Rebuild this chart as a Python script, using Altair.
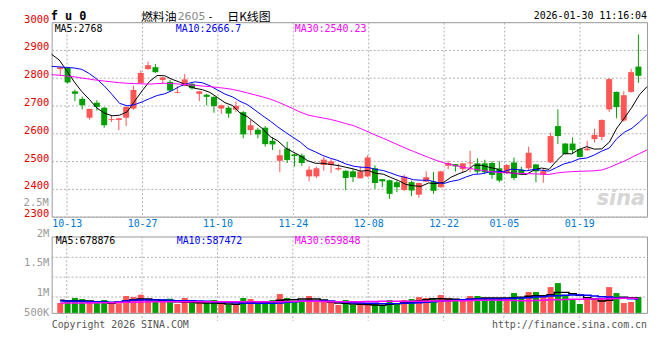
import altair as alt
import pandas as pd

# ---------------- data ----------------
dates = ["10-09","10-10","10-13","10-14","10-15","10-16","10-17","10-20","10-21","10-22","10-23","10-24",
         "10-27","10-28","10-29","10-30","10-31",
         "11-03","11-04","11-05","11-06","11-07","11-10","11-11","11-12","11-13","11-14","11-17","11-18",
         "11-19","11-20","11-21","11-24","11-25","11-26","11-27","11-28",
         "12-01","12-02","12-03","12-04","12-05","12-08","12-09","12-10","12-11","12-12","12-15","12-16",
         "12-17","12-18","12-19","12-22","12-23","12-24","12-25","12-26","12-29","12-30","12-31",
         "01-05","01-06","01-07","01-08","01-09","01-12","01-13","01-14","01-15","01-16","01-19","01-20",
         "01-21","01-22","01-23","01-26","01-27","01-28","01-29","01-30"]

opens = [2831,2835,2751,2724,2656,2710,2692,2648,2648,2656,2689,2781,2831,2838,2792,2785,2746,2771,2778,2742,
         2739,2731,2689,2692,2685,2676,2611,2613,2620,2573,2501,2545,2524,2520,2445,2445,2486,2486,2470,2465,
         2463,2438,2445,2474,2435,2431,2424,2396,2424,2379,2426,2427,2406,2483,2489,2471,2492,2492,2492,2493,
         2474,2460,2495,2469,2474,2488,2451,2495,2626,2563,2563,2543,2539,2579,2587,2686,2749,2646,2749,2840]
highs = [2840,2838,2757,2732,2688,2719,2695,2666,2656,2697,2771,2826,2858,2849,2803,2793,2770,2813,2785,2752,
         2742,2733,2703,2698,2715,2680,2649,2620,2626,2585,2542,2570,2527,2527,2481,2480,2515,2507,2489,2467,
         2471,2481,2521,2485,2436,2433,2430,2451,2430,2423,2463,2461,2465,2501,2490,2493,2537,2510,2505,2499,
         2499,2489,2513,2480,2552,2490,2471,2602,2686,2565,2585,2546,2573,2617,2650,2799,2750,2751,2832,2956]
lows = [2808,2779,2716,2686,2649,2682,2620,2641,2611,2626,2685,2779,2829,2817,2779,2749,2744,2769,2757,2716,
        2701,2674,2670,2656,2677,2582,2594,2582,2552,2540,2460,2493,2481,2483,2427,2439,2465,2457,2465,2396,
        2424,2438,2442,2400,2406,2364,2388,2392,2374,2368,2425,2382,2404,2471,2462,2460,2460,2454,2454,2436,
        2424,2454,2431,2451,2465,2424,2422,2493,2561,2523,2525,2513,2537,2567,2575,2677,2654,2642,2746,2781]
closes = [2838,2783,2742,2701,2688,2695,2629,2651,2654,2695,2756,2817,2845,2820,2801,2754,2749,2794,2762,2751,
          2731,2698,2701,2671,2699,2596,2629,2596,2561,2560,2521,2504,2518,2493,2469,2474,2505,2499,2475,2439,
          2442,2463,2513,2421,2427,2382,2406,2444,2394,2421,2442,2393,2463,2493,2481,2492,2495,2462,2460,2450,
          2430,2486,2439,2456,2530,2463,2464,2590,2590,2525,2539,2515,2545,2594,2648,2795,2694,2737,2820,2807]

ma5 = [2884,2864,2825,2785,2750,2722,2691,2673,2663,2665,2677,2715,2753,2787,2808,2807,2794,2784,2772,2762,
       2757,2747,2729,2710,2700,2673,2659,2638,2616,2588,2573,2548,2533,2519,2501,2492,2492,2488,2484,2478,
       2472,2464,2466,2456,2453,2441,2430,2416,2411,2409,2421,2419,2423,2442,2454,2464,2485,2485,2478,2472,
       2459,2458,2453,2452,2468,2475,2470,2501,2527,2526,2542,2552,2543,2544,2568,2619,2655,2694,2739,2768]
ma10 = [2841,2839,2837,2835,2830,2815,2795,2770,2740,2708,2699,2703,2713,2725,2736,2742,2754,2769,2779,2785,
        2782,2771,2756,2741,2731,2715,2703,2683,2663,2644,2623,2604,2586,2568,2545,2533,2520,2510,2502,2490,
        2482,2478,2477,2470,2466,2457,2447,2441,2433,2431,2431,2424,2419,2427,2432,2443,2452,2454,2460,2463,
        2462,2471,2469,2465,2470,2467,2464,2477,2490,2497,2508,2511,2522,2536,2547,2581,2604,2618,2641,2667]
ma30 = [2811,2809,2806,2803,2799,2795,2791,2788,2785,2782,2780,2779,2778,2777,2779,2780,2779,2777,2775,2773,
        2770,2768,2765,2762,2758,2752,2745,2738,2731,2723,2713,2701,2689,2676,2666,2660,2655,2650,2643,2635,
        2628,2617,2605,2593,2582,2570,2558,2546,2535,2524,2513,2503,2494,2487,2481,2476,2471,2467,2463,2460,
        2458,2457,2456,2455,2454,2453,2452,2457,2460,2462,2463,2464,2465,2468,2477,2489,2500,2514,2527,2540]

vols_k = [455,545,682,636,545,545,591,468,441,773, 727,832,636,545,545,650,409,682,500,500,
          455,591,455,364,409,682,636,455,455,591, 864,682,545,545,773,545,545,500,364,591,
          364,455,455,409,364,591,409,591,636,727, 682,682,818,682,591,591,773,773,682,682,
          682,682,909,682,955,955,727,1182,1364,773, 636,409,636,636,682,1182,909,455,500,727]
vma5_k = [576,561,561,546,546,516,485,440,485,546, 607,637,637,607,576,546,516,500,485,470,
          455,455,440,410,394,440,470,455,485,516, 576,607,607,637,637,637,592,500,455,440,
          410,394,379,364,349,394,425,455,500,546, 607,652,652,637,622,607,622,652,682,682,
          682,682,698,713,758,789,789,834,940,940, 880,804,698,637,546,576,667,713,698,679]
vma10_k = [546,546,531,531,516,516,500,485,500,546, 576,592,592,592,592,576,561,561,561,546,
           531,516,500,485,470,455,440,440,440,440, 455,485,516,546,546,546,546,546,516,485,
           470,455,440,440,425,425,425,440,455,470, 485,516,546,561,576,607,622,637,637,637,
           637,652,667,682,698,728,743,773,789,804, 819,819,804,773,743,728,682,667,652,637]
vma30_k = [455,455,455,455,455,460,465,470,480,485, 490,500,505,510,512,515,516,516,516,516,
           516,516,516,516,516,516,516,516,516,516, 516,520,525,530,531,531,525,516,516,516,
           516,516,520,525,531,531,531,531,531,531, 535,540,546,550,555,561,566,576,580,585,
           580,575,565,560,555,565,580,600,607,615, 622,630,637,640,645,652,660,667,670,660]

tick_labels = ["10-13","10-27","11-10","11-24","12-08","12-22","01-05","01-19"]
price_ticks = [2300, 2400, 2500, 2600, 2700, 2800, 2900, 3000]
vol_label_text = ["500K", "1M", "1.5M", "2M"]
vol_label_pos = [0, 932000, 2318000, 3500000]
vol_extra_label = "2.5M"
vol_grid = [727000, 1636000, 2545000]
ma_names = ["MA5", "MA10", "MA30"]
main_ma_text = ["MA5:2768", "MA10:2666.7", "MA30:2540.23"]
vol_ma_text = ["MA5:678876", "MA10:587472", "MA30:659848"]

# ---------------- styling ----------------
RED = "#ff5555"
GREEN = "#00a000"
PRICE_RED = "#e60000"
BLUE = "#0078d7"
GRID = "#b0b0b0"
MONO = "DejaVu Sans Mono"
CJK = "Noto Sans CJK SC"
W, H, VH = 600, 196, 77
n = len(dates)
idx = list(range(n))

df = pd.DataFrame({"i": idx, "open": opens, "high": highs, "low": lows, "close": closes,
                   "vol": [v * 1000 for v in vols_k]})
df["key"] = ["up" if c >= o else "down" for o, c in zip(opens, closes)]
ma_df = pd.DataFrame({"i": idx * 3, "key": [m for m in ma_names for _ in idx], "value": ma5 + ma10 + ma30})
vma_df = pd.DataFrame({"i": idx * 3, "key": [m for m in ma_names for _ in idx],
                       "value": [v * 1000 for v in vma5_k + vma10_k + vma30_k]})
tick_idx = [dates.index(d) for d in tick_labels]

color = alt.Color("key:N", scale=alt.Scale(domain=["up", "down"] + ma_names,
                                           range=[RED, GREEN, "#000000", "#0000ff", "#ff00ff"]), legend=None)

xc = alt.X("i:Q", scale=alt.Scale(domain=[-0.5, n - 0.5], nice=False, zero=False), axis=None)
xl_scale = alt.Scale(domain=[0, n - 1], nice=False, zero=False)
date_arr = "[" + ",".join("'%s'" % d for d in dates) + "]"
xl_axis = alt.Axis(values=tick_idx, labelExpr=date_arr + "[datum.value]", grid=True, gridDash=[2, 2],
                   gridColor=GRID, ticks=False, domain=False, labelColor=BLUE, labelFont=MONO,
                   labelFontSize=10, labelPadding=2, labelOverlap=False, labelFlush=False, title=None)
xl = alt.X("i:Q", scale=xl_scale, axis=xl_axis)

yp_scale = alt.Scale(domain=[2300, 3000], nice=False, zero=False)
yp_axis = alt.Axis(values=price_ticks, format="d", grid=True, gridDash=[2, 2], gridColor=GRID, ticks=False,
                   domain=False, labelColor=PRICE_RED, labelFont=MONO, labelFontSize=10.5, labelPadding=3,
                   labelOffset=-3, labelOverlap=False, title=None)


def txt(s, x, y, col, size=10, font=MONO, align="left", weight="normal", style="normal"):
    return alt.Chart(pd.DataFrame({"t": [s]})).mark_text(
        align=align, baseline="middle", font=font, fontSize=size, color=col, fontWeight=weight,
        fontStyle=style).encode(x=alt.value(x), y=alt.value(y), text="t:N")


# ---------------- price panel ----------------
wicks = alt.Chart(df).mark_rule(strokeWidth=1).encode(
    x=xc, y=alt.Y("low:Q", scale=yp_scale, axis=yp_axis), y2="high:Q", color=color)
bodies = alt.Chart(df).mark_bar(size=6).encode(
    x=xc, y=alt.Y("open:Q", scale=yp_scale, axis=yp_axis), y2="close:Q", color=color)
lines = alt.Chart(ma_df).mark_line(strokeWidth=1).encode(
    x=xl, y=alt.Y("value:Q", scale=yp_scale, axis=yp_axis), color=color)

main = alt.layer(
    txt("sina", W - 2, 178, "#d6d6d6", size=21, font="DejaVu Sans", weight="bold", style="italic",
        align="right"),
    alt.layer(wicks, bodies),
    lines,
    txt(main_ma_text[0], 3, 6.5, "#000000"),
    txt(main_ma_text[1], 125, 6.5, "#0000ff"),
    txt(main_ma_text[2], 245, 6.5, "#ff00ff"),
    txt(vol_extra_label, -3, H - 14, "#999999", size=10.5, align="right"),
    txt("f u 0", -1, -6, "#000000", size=12, weight="bold"),
    txt("燃料油", 90, -5.5, "#000000", size=12, font=CJK),
    txt("2605", 127, -5.5, "#888888", size=11, font="DejaVu Sans"),
    txt("-", 157, -5.5, "#000000", size=10, font=MONO),
    txt("日K线图", 177, -5.5, "#000000", size=12, font=CJK),
    txt("2026-01-30 11:16:04", W, -6, "#000000", align="right"),
).resolve_scale(x="independent").properties(width=W, height=H)

# ---------------- volume panel ----------------
yv_scale = alt.Scale(domain=[0, 3500000], nice=False, zero=True)
vol_pos_arr = "[" + ",".join(str(v) for v in vol_label_pos) + "]"
vol_txt_arr = "[" + ",".join("'%s'" % t for t in vol_label_text) + "]"
yv_axis = alt.Axis(values=vol_label_pos,
                   labelExpr=vol_txt_arr + "[indexof(" + vol_pos_arr + ", datum.value)]",
                   grid=False, ticks=False, domain=False, labelColor="#999999", labelFont=MONO,
                   labelFontSize=10.5, labelPadding=3, labelOverlap=False, title=None,
                   labelOffset={"condition": {"test": "datum.value == 3500000", "value": -3}, "value": 0})

vgrid_h = alt.Chart(pd.DataFrame({"v": vol_grid})).mark_rule(strokeDash=[2, 2], color=GRID).encode(
    y=alt.Y("v:Q", scale=yv_scale, axis=yv_axis), x=alt.value(0), x2=alt.value(W))
vgrid_v = alt.Chart(pd.DataFrame({"i": tick_idx})).mark_rule(strokeDash=[2, 2], color=GRID).encode(
    x=alt.X("i:Q", scale=xl_scale, axis=None), y=alt.value(0), y2=alt.value(VH + 8))
vbars = alt.Chart(df).mark_bar(size=6).encode(
    x=xc, y=alt.Y("vol:Q", scale=yv_scale, axis=yv_axis), color=color)
vlines = alt.Chart(vma_df).mark_line(strokeWidth=1.5, interpolate="step").encode(
    x=xc, y=alt.Y("value:Q", scale=yv_scale, axis=yv_axis), color=color)

vol = alt.layer(
    vgrid_h,
    vgrid_v,
    alt.layer(vbars, vlines),
    txt(vol_ma_text[0], 4, 5, "#000000"),
    txt(vol_ma_text[1], 126, 5, "#0000ff"),
    txt(vol_ma_text[2], 245, 5, "#ff00ff"),
    txt("Copyright 2026 SINA.COM", 0, VH + 12, "#555555"),
    txt("http://finance.sina.com.cn", W, VH + 12, "#555555", align="right"),
).resolve_scale(x="independent").properties(width=W, height=VH)

chart = alt.vconcat(main, vol, spacing=20, bounds="flush").properties(
    padding={"left": 15, "top": 0, "right": 2, "bottom": 2},
    background="white",
).configure_view(stroke="#999999", strokeWidth=1)

chart.save("out.html", embed_options={"renderer": "svg", "actions": False})
